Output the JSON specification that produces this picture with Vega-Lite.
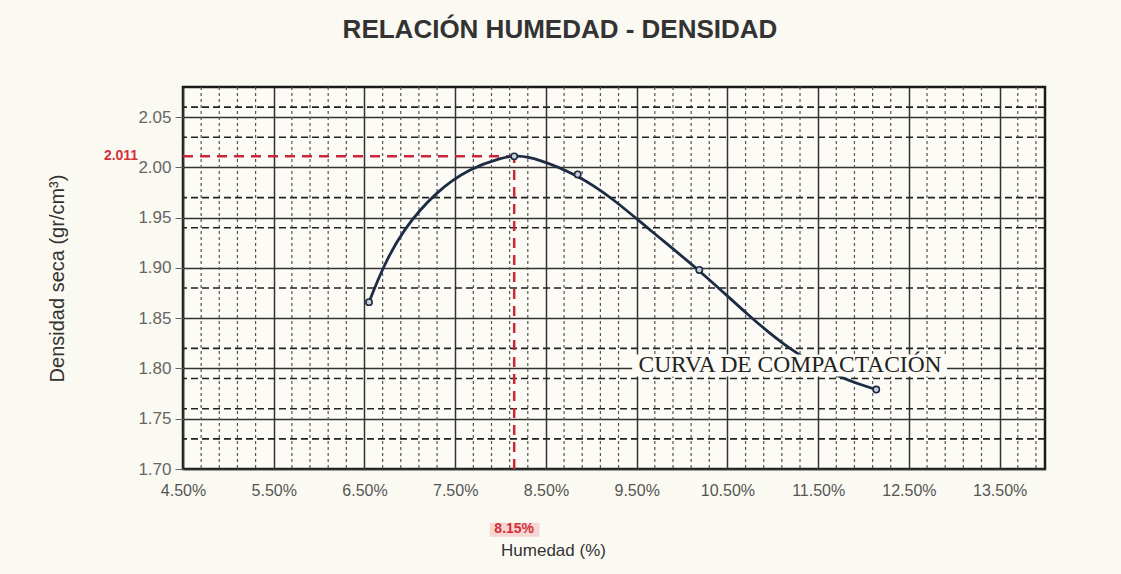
{
  "$schema": "https://vega.github.io/schema/vega-lite/v6.json",
  "width": 862,
  "height": 382,
  "autosize": {"type": "none"},
  "padding": {"left": 183, "top": 87, "right": 76, "bottom": 105},
  "background": "#fbfaf2",
  "config": {
    "view": {"stroke": "#1a1a1a", "strokeWidth": 2.5, "fill": "#fcfbf5"},
    "font": "Liberation Sans"
  },
  "title": {
    "text": "RELACIÓN HUMEDAD - DENSIDAD",
    "fontSize": 26,
    "fontWeight": "bold",
    "color": "#333333",
    "anchor": "middle",
    "dx": -54,
    "offset": 43,
    "font": "Liberation Sans"
  },
  "datasets": {
    "vgrid": [
      {"hum": 4.7}, {"hum": 4.9}, {"hum": 5.1}, {"hum": 5.3},
      {"hum": 5.7}, {"hum": 5.9}, {"hum": 6.1}, {"hum": 6.3},
      {"hum": 6.7}, {"hum": 6.9}, {"hum": 7.1}, {"hum": 7.3},
      {"hum": 7.7}, {"hum": 7.9}, {"hum": 8.1}, {"hum": 8.3},
      {"hum": 8.7}, {"hum": 8.9}, {"hum": 9.1}, {"hum": 9.3},
      {"hum": 9.7}, {"hum": 9.9}, {"hum": 10.1}, {"hum": 10.3},
      {"hum": 10.7}, {"hum": 10.9}, {"hum": 11.1}, {"hum": 11.3},
      {"hum": 11.7}, {"hum": 11.9}, {"hum": 12.1}, {"hum": 12.3},
      {"hum": 12.7}, {"hum": 12.9}, {"hum": 13.1}, {"hum": 13.3},
      {"hum": 13.7}, {"hum": 13.9}
    ],
    "hgrid": [
      {"den": 1.73}, {"den": 1.76}, {"den": 1.79}, {"den": 1.82},
      {"den": 1.88}, {"den": 1.94}, {"den": 1.97}, {"den": 2.03}, {"den": 2.06}
    ],
    "refh": [{"hum": 4.5, "hum2": 8.15, "den": 2.011}],
    "refv": [{"hum": 8.15, "den": 1.70, "den2": 2.011}],
    "curve": [
      {"hum": 6.55, "den": 1.866},
      {"hum": 6.70, "den": 1.900},
      {"hum": 6.92, "den": 1.938},
      {"hum": 7.30, "den": 1.977},
      {"hum": 7.66, "den": 1.999},
      {"hum": 8.02, "den": 2.010},
      {"hum": 8.18, "den": 2.012},
      {"hum": 8.40, "den": 2.009},
      {"hum": 8.84, "den": 1.993},
      {"hum": 9.24, "den": 1.969},
      {"hum": 9.64, "den": 1.938},
      {"hum": 10.19, "den": 1.898},
      {"hum": 10.74, "den": 1.852},
      {"hum": 11.15, "den": 1.821},
      {"hum": 11.66, "den": 1.793},
      {"hum": 12.14, "den": 1.779}
    ],
    "pts": [
      {"hum": 6.55, "den": 1.866},
      {"hum": 8.15, "den": 2.011},
      {"hum": 8.85, "den": 1.993},
      {"hum": 10.19, "den": 1.898},
      {"hum": 12.14, "den": 1.779}
    ],
    "box": [{"hum": 9.45, "hum2": 12.92, "den": 1.792, "den2": 1.814}],
    "pinkbox": [{"hum": 7.88, "hum2": 8.43, "den": 1.6465, "den2": 1.6325}],
    "curvelabel": [{"hum": 11.19, "den": 1.796, "label": "CURVA DE COMPACTACIÓN"}],
    "ylab": [{"hum": 4.5, "den": 2.011, "label": "2.011"}],
    "xlab": [{"hum": 8.15, "den": 1.70, "label": "8.15%"}]
  },
  "layer": [
    {
      "data": {"name": "vgrid"},
      "mark": {"type": "rule", "color": "#555555", "strokeDash": [3, 3], "strokeWidth": 1.2},
      "encoding": {
        "x": {
          "field": "hum", "type": "quantitative",
          "scale": {"domain": [4.5, 14.0], "nice": false, "zero": false},
          "axis": {
            "values": [4.5, 5.5, 6.5, 7.5, 8.5, 9.5, 10.5, 11.5, 12.5, 13.5],
            "labelExpr": "format(datum.value, '.2f') + '%'",
            "grid": true, "gridColor": "#333333", "gridWidth": 1.5,
            "ticks": false, "domain": false,
            "labelFontSize": 16, "labelColor": "#555555", "labelPadding": 13,
            "labelFlush": false,
            "title": "Humedad (%)", "titleFontSize": 17, "titleFontWeight": "normal",
            "titleColor": "#333333", "titleX": 370, "titleY": 81, "titleBaseline": "middle"
          }
        }
      }
    },
    {
      "data": {"name": "hgrid"},
      "mark": {"type": "rule", "color": "#222222", "strokeDash": [7, 4], "strokeWidth": 1.6},
      "encoding": {
        "y": {
          "field": "den", "type": "quantitative",
          "scale": {"domain": [1.70, 2.08], "nice": false, "zero": false},
          "axis": {
            "values": [1.70, 1.75, 1.80, 1.85, 1.90, 1.95, 2.00, 2.05],
            "format": ".2f",
            "grid": true, "gridColor": "#333333", "gridWidth": 1.5,
            "domain": false, "ticks": true, "tickSize": 8, "tickColor": "#666666",
            "labelFontSize": 17, "labelColor": "#666666", "labelPadding": 4,
            "title": "Densidad seca (gr/cm³)", "titleFontSize": 20, "titleFontWeight": "normal",
            "titleColor": "#333333", "titlePadding": 70
          }
        }
      }
    },
    {
      "data": {"name": "refh"},
      "mark": {"type": "rule", "color": "#c8283a", "strokeDash": [10, 7], "strokeWidth": 2.5},
      "encoding": {
        "x": {"field": "hum", "type": "quantitative"},
        "x2": {"field": "hum2"},
        "y": {"field": "den", "type": "quantitative"}
      }
    },
    {
      "data": {"name": "refv"},
      "mark": {"type": "rule", "color": "#c8283a", "strokeDash": [10, 7], "strokeWidth": 2.5},
      "encoding": {
        "x": {"field": "hum", "type": "quantitative"},
        "y": {"field": "den", "type": "quantitative"},
        "y2": {"field": "den2"}
      }
    },
    {
      "data": {"name": "curve"},
      "mark": {"type": "line", "color": "#1e2b45", "strokeWidth": 2.8, "interpolate": "basis"},
      "encoding": {
        "x": {"field": "hum", "type": "quantitative"},
        "y": {"field": "den", "type": "quantitative"}
      }
    },
    {
      "data": {"name": "box"},
      "mark": {"type": "rect", "color": "#fcfbf5"},
      "encoding": {
        "x": {"field": "hum", "type": "quantitative"},
        "x2": {"field": "hum2"},
        "y": {"field": "den", "type": "quantitative"},
        "y2": {"field": "den2"}
      }
    },
    {
      "data": {"name": "curvelabel"},
      "mark": {"type": "text", "font": "Liberation Serif", "fontSize": 23.5, "color": "#222222", "align": "center", "baseline": "alphabetic"},
      "encoding": {
        "x": {"field": "hum", "type": "quantitative"},
        "y": {"field": "den", "type": "quantitative"},
        "text": {"field": "label"}
      }
    },
    {
      "data": {"name": "pts"},
      "mark": {"type": "point", "shape": "circle", "filled": true, "fill": "#c9cfd8", "stroke": "#1e2b45", "strokeWidth": 1.6, "size": 40, "opacity": 1},
      "encoding": {
        "x": {"field": "hum", "type": "quantitative"},
        "y": {"field": "den", "type": "quantitative"}
      }
    },
    {
      "data": {"name": "pinkbox"},
      "mark": {"type": "rect", "color": "#f5d6d3", "clip": false},
      "encoding": {
        "x": {"field": "hum", "type": "quantitative"},
        "x2": {"field": "hum2"},
        "y": {"field": "den", "type": "quantitative"},
        "y2": {"field": "den2"}
      }
    },
    {
      "data": {"name": "ylab"},
      "mark": {"type": "text", "color": "#d3303a", "fontWeight": "bold", "fontSize": 14, "align": "center", "baseline": "middle", "dx": -62},
      "encoding": {
        "x": {"field": "hum", "type": "quantitative"},
        "y": {"field": "den", "type": "quantitative"},
        "text": {"field": "label"}
      }
    },
    {
      "data": {"name": "xlab"},
      "mark": {"type": "text", "color": "#d3303a", "fontWeight": "bold", "fontSize": 14, "align": "center", "baseline": "middle", "dy": 60},
      "encoding": {
        "x": {"field": "hum", "type": "quantitative"},
        "y": {"field": "den", "type": "quantitative"},
        "text": {"field": "label"}
      }
    }
  ]
}
